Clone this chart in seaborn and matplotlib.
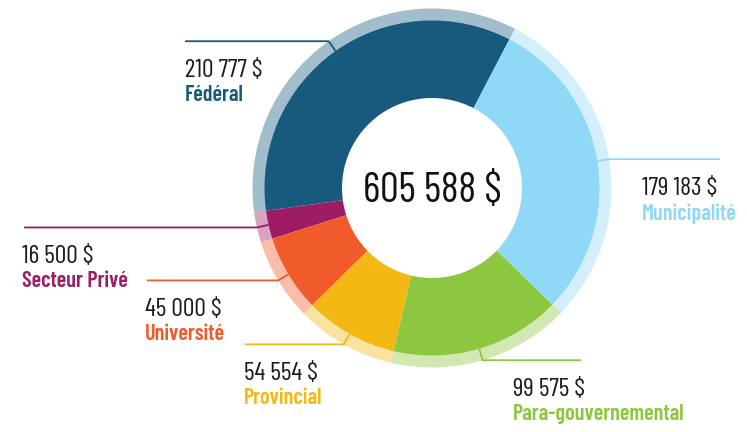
import numpy as np
import seaborn as sns
import matplotlib.pyplot as plt
from matplotlib.colors import to_rgba

# data
sources = ['Fédéral', 'Secteur Privé', 'Université', 'Provincial',
           'Para-gouvernemental', 'Municipalité']
amounts = [210777, 16500, 45000, 54554, 99575, 179183]
amount_labels = ['210 777 $', '16 500 $', '45 000 $', '54 554 $', '99 575 $', '179 183 $']
total_label = '605 588 $'
colors = ['#175a7e', '#9d1c63', '#f15a2b', '#f3b814', '#8dc63f', '#8fd8f6']

# layout (pixels, origin top-left): label x and where the leader line ends
text_x = [185, 22, 145, 244, 513, 642]
line_end = [185, 24, 147, 245, 581, 720]

W, H = 747, 432
cx, cy = 432, 188
r_out, r_main, r_hole = 179.5, 167.5, 90

sns.set_theme(style='white')
plt.rcParams['font.family'] = ['Barlow Condensed', 'DejaVu Sans']

fig = plt.figure(figsize=(W / 100, H / 100), dpi=100)
ax = fig.add_axes([0, 0, 1, 1])

light = [to_rgba(c, 0.4) for c in colors]
ax.pie(amounts, radius=r_out, center=(cx, H - cy), startangle=62.5,
       counterclock=True, colors=light,
       wedgeprops=dict(width=r_out - r_main + 1, linewidth=0))
wedges, _ = ax.pie(amounts, radius=r_main, center=(cx, H - cy), startangle=62.5,
                   counterclock=True, colors=colors,
                   wedgeprops=dict(width=r_main - r_hole, linewidth=0))

for i, w in enumerate(wedges):
    mid = np.deg2rad((w.theta1 + w.theta2) / 2)
    x1, y1 = cx + r_main * np.cos(mid), (H - cy) + r_main * np.sin(mid)
    x2, y2 = cx + r_out * np.cos(mid), (H - cy) + r_out * np.sin(mid)
    ax.plot([x1, x2, line_end[i]], [y1, y2, y2], color=colors[i], lw=1.3,
            solid_capstyle='butt')
    ax.text(text_x[i], y2 - 18, amount_labels[i], fontsize=18.5, color='#1a1a1a',
            ha='left', va='top')
    ax.text(text_x[i], y2 - 44, sources[i], fontsize=16, color=colors[i],
            fontweight='semibold', ha='left', va='top')

ax.text(cx, H - cy - 3, total_label, fontsize=30, color='#111111',
        ha='center', va='center')

ax.set_xlim(0, W)
ax.set_ylim(0, H)
ax.set_aspect('equal')
ax.axis('off')

fig.savefig('out.png', dpi=100, facecolor='white')
